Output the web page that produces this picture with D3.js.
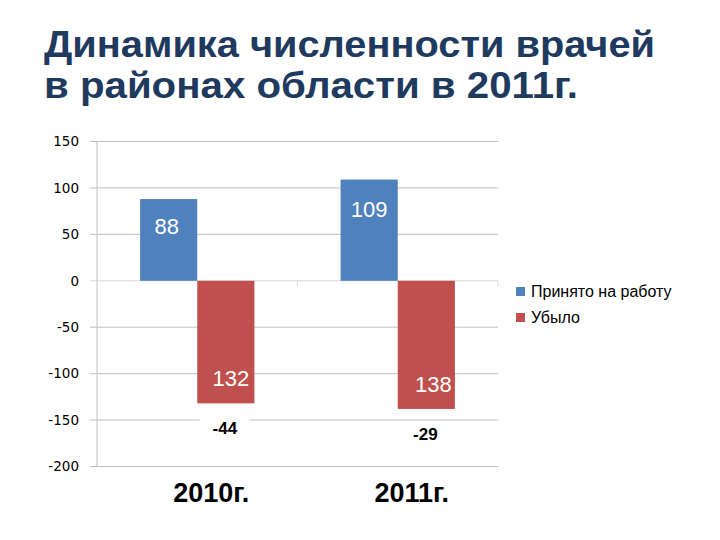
<!DOCTYPE html>
<html><head><meta charset="utf-8">
<script src="https://cdn.jsdelivr.net/npm/d3@7/dist/d3.min.js"></script>
<style>body{margin:0;background:#fff;} svg{display:block;}</style>
</head><body>
<svg id="c" width="720" height="540"></svg>
<script>
const titleLines = ["Динамика численности врачей", "в районах области в 2011г."];
const categories = ["2010г.", "2011г."];
const seriesNames = ["Принято на работу", "Убыло"];
const hired = [88, 109];
const left = [-132, -138];
const netLabels = [-44, -29];
const yTicks = [150, 100, 50, 0, -50, -100, -150, -200];
const colors = ["#4f81bd", "#c0504d"];

const svg = d3.select("#c");
const x0 = 97, x1 = 498, yTop = 141.5, yBot = 466.5;

const titleW = [611, 534];
titleLines.forEach((t,i)=> svg.append("text")
  .attr("font-family","Liberation Sans, Arial").attr("font-weight","bold").attr("font-size",37)
  .attr("fill","#1f3a5f").attr("x",44).attr("y",57+i*40.5)
  .attr("textLength",titleW[i]).attr("lengthAdjust","spacingAndGlyphs").text(t));

const y = d3.scaleLinear().domain([-200,150]).range([yBot,yTop]);
const x = d3.scaleBand().domain(categories).range([x0,x1]).paddingInner(0.43).paddingOuter(0.215);
const xs = d3.scaleBand().domain([0,1]).range([0,x.bandwidth()]);

const g = svg.append("g");
// gridlines
g.selectAll(".grid").data(yTicks).join("line")
  .attr("x1",x0-7).attr("x2",x1).attr("y1",d=>y(d)).attr("y2",d=>y(d))
  .attr("stroke",d=>d===0?"#d9d9d9":"#bfbfbf").attr("stroke-width",1);
// left axis
g.append("line").attr("x1",x0).attr("x2",x0).attr("y1",yTop).attr("y2",yBot).attr("stroke","#bfbfbf");
// category ticks on zero line
const bounds = [x0 + (x1-x0)/2, x1];
g.selectAll(".ct").data(bounds).join("line")
  .attr("x1",d=>d).attr("x2",d=>d).attr("y1",y(0)).attr("y2",y(0)+6).attr("stroke","#d9d9d9");
// tick labels
const yAxis = d3.axisLeft(y).tickValues(yTicks).tickSize(0).tickPadding(18).tickFormat(d=>String(d));
const ya = svg.append("g").attr("transform",`translate(${x0},0)`).call(yAxis);
ya.select(".domain").remove();
ya.selectAll("text").attr("font-family","DejaVu Sans, Verdana").attr("font-size",13.5).attr("fill","#000");

// bars
const series = [hired, left];
series.forEach((vals,s)=>{
  g.selectAll(".b"+s).data(categories).join("rect")
    .attr("x",c=>x(c)+xs(s)).attr("width",xs.bandwidth())
    .attr("y",(c,i)=>y(Math.max(0,vals[i]))).attr("height",(c,i)=>Math.abs(y(vals[i])-y(0)))
    .attr("fill",colors[s]);
});
// value labels in bars
g.selectAll(".lh").data(categories).join("text")
  .attr("x",(c,i)=>x(c)+xs(0)+xs.bandwidth()/2-2+(i===1?2:0))
  .attr("y",(c,i)=>y(hired[i])+(i===0?35:37))
  .attr("text-anchor","middle").attr("font-family","Liberation Sans, Arial").attr("font-size",22)
  .attr("fill","#fff").text((c,i)=>hired[i]);
g.selectAll(".ll").data(categories).join("text")
  .attr("x",(c,i)=>x(c)+xs(1)+xs.bandwidth()/2+(i===0?5:7))
  .attr("y",(c,i)=>y(left[i])-17)
  .attr("text-anchor","middle").attr("font-family","Liberation Sans, Arial").attr("font-size",22)
  .attr("fill","#fff").text((c,i)=>Math.abs(left[i]));
// net labels with white backing
const nl = g.selectAll(".nl").data(categories).join("g")
  .attr("transform",(c,i)=>`translate(${x(c)+xs(1)+xs.bandwidth()/2-1},${y(left[i])+31})`);
nl.append("rect").attr("x",-25).attr("y",-16).attr("width",50).attr("height",22).attr("fill","#fff");
nl.append("text").attr("text-anchor","middle").attr("font-family","Liberation Sans, Arial")
  .attr("font-weight","bold").attr("font-size",17).attr("fill","#000").text((c,i)=>netLabels[i]);

// category labels
svg.selectAll(".cl").data(categories).join("text")
  .attr("x",c=>x(c)+x.bandwidth()/2+14).attr("y",502)
  .attr("text-anchor","middle").attr("font-family","Liberation Sans, Arial").attr("font-weight","bold")
  .attr("font-size",27).attr("fill","#000").text(c=>c);

// legend
const lg = svg.selectAll(".lg").data(seriesNames).join("g")
  .attr("transform",(d,i)=>`translate(516,${287+i*26})`);
lg.append("rect").attr("width",9).attr("height",9).attr("fill",(d,i)=>colors[i]);
lg.append("text").attr("x",15).attr("y",10).attr("font-family","Liberation Sans, Arial")
  .attr("font-size",16).attr("fill","#000").text(d=>d);
</script>
</body></html>
